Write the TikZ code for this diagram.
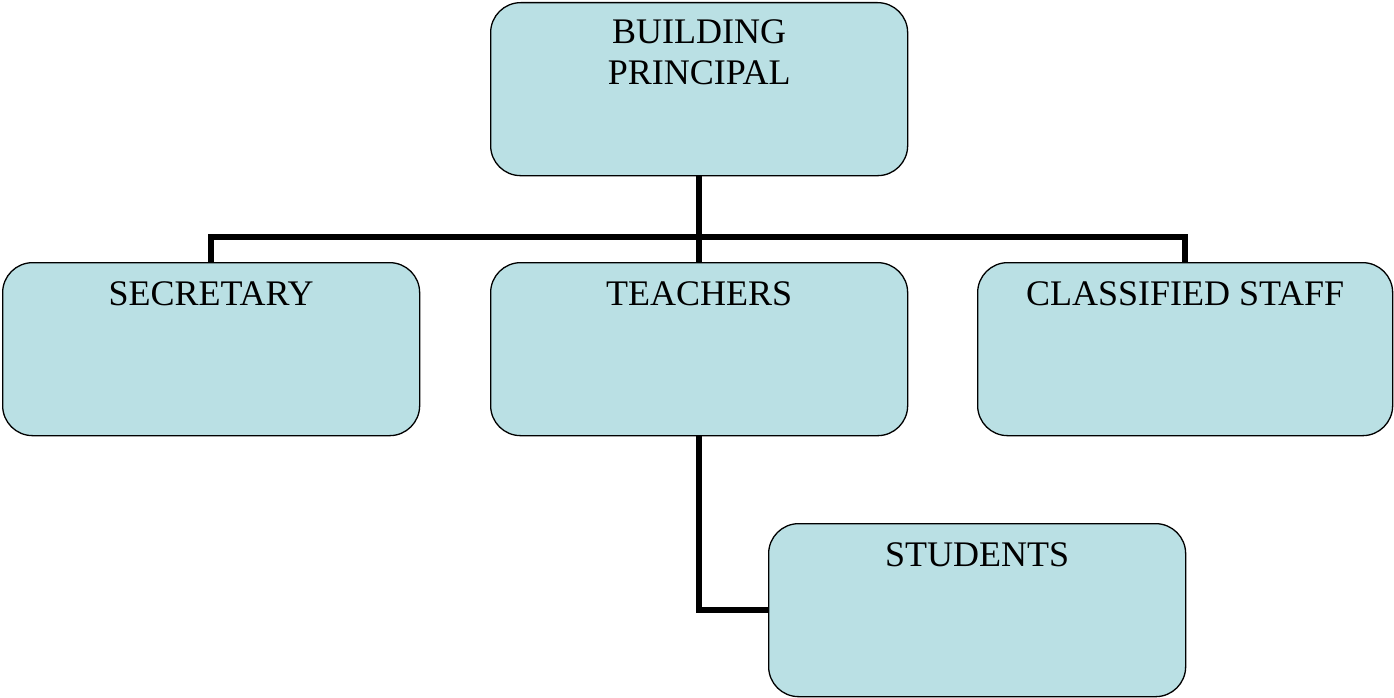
\documentclass[tikz,border=0pt]{standalone}
\usepackage{fontspec}
\setmainfont{Liberation Serif}
\definecolor{boxfill}{HTML}{BAE0E4}
\begin{document}
\begin{tikzpicture}[x=1pt,y=-1pt,
  orgbox/.style={draw=black,line width=1.3pt,fill=boxfill,rounded corners=30pt,
    minimum width=417pt,minimum height=173pt,inner sep=0pt,anchor=north west},
  boxtext/.style={font=\fontsize{36}{41}\selectfont,align=center,anchor=north,inner sep=0pt},
  conn/.style={line width=6pt}]
\useasboundingbox (0,0) rectangle (1394,698);
\node[orgbox,label={[boxtext,yshift=-17pt]north:BUILDING\\PRINCIPAL}] (pr) at (490,2) {};
\node[orgbox,label={[boxtext,yshift=-19pt]north:SECRETARY}] (se) at (2,262) {};
\node[orgbox,label={[boxtext,yshift=-19pt]north:TEACHERS}] (te) at (490,262) {};
\node[orgbox,minimum width=415pt,label={[boxtext,yshift=-19pt]north:CLASSIFIED STAFF}] (cl) at (977,262) {};
\node[orgbox,label={[boxtext,yshift=-19pt]north:STUDENTS}] (st) at (768,523) {};
\coordinate (bus) at (698,237);
\draw[conn] (pr.south) -- (te.north);
\draw[conn] (se.north) |- (bus) -| (cl.north);
\draw[conn] (te.south) |- (st.west);
\end{tikzpicture}
\end{document}
